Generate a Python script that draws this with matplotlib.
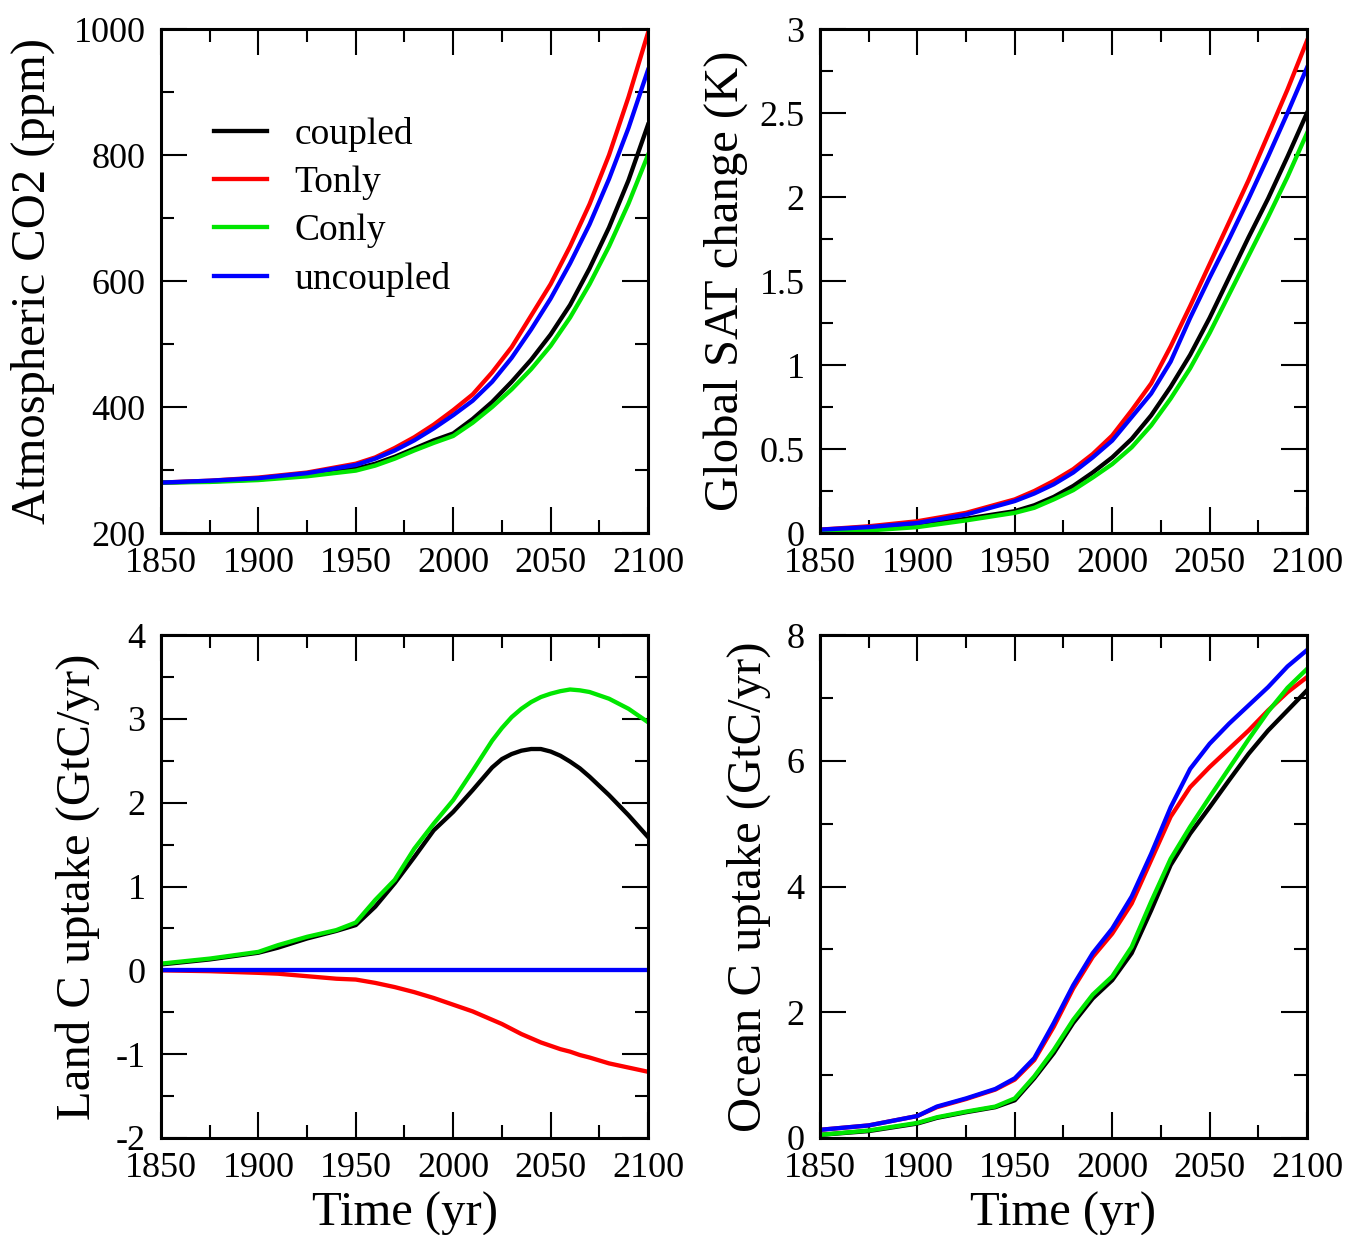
import matplotlib
matplotlib.use("Agg")
import matplotlib.pyplot as plt
from matplotlib.ticker import MultipleLocator

plt.rcParams['font.family'] = ['Liberation Serif', 'DejaVu Serif']
plt.rcParams['axes.unicode_minus'] = False

# --- data ---
run_names = ["coupled", "Tonly", "Conly", "uncoupled"]
run_colors = ["#000000", "#ff0000", "#00e600", "#0000ff"]

years = [1850, 1875, 1900, 1925, 1950, 1960, 1970, 1980, 1990, 2000,
         2010, 2020, 2030, 2040, 2050, 2060, 2070, 2080, 2090, 2100]

co2_coupled = [280, 282, 285, 292, 302, 310, 321, 334, 347, 358,
               381, 408, 440, 475, 515, 562, 620, 685, 760, 848]
co2_tonly = [280, 283, 288, 296, 310, 320, 335, 352, 372, 395,
             420, 455, 495, 545, 595, 655, 722, 800, 892, 994]
co2_conly = [280, 281, 284, 290, 299, 307, 318, 331, 343, 354,
             375, 400, 428, 460, 497, 542, 595, 655, 723, 800]
co2_uncoupled = [280, 283, 287, 295, 308, 318, 331, 347, 366, 387,
                 410, 440, 478, 523, 572, 628, 690, 762, 843, 935]

sat_coupled = [0.005, 0.02, 0.045, 0.085, 0.13, 0.165, 0.215, 0.28, 0.36, 0.45,
               0.56, 0.70, 0.87, 1.06, 1.28, 1.52, 1.76, 1.99, 2.24, 2.50]
sat_tonly = [0.02, 0.04, 0.07, 0.12, 0.20, 0.25, 0.31, 0.38, 0.47, 0.58,
             0.73, 0.89, 1.11, 1.35, 1.60, 1.85, 2.10, 2.37, 2.64, 2.93]
sat_conly = [0.005, 0.015, 0.035, 0.075, 0.12, 0.15, 0.20, 0.255, 0.33, 0.41,
             0.51, 0.64, 0.80, 0.98, 1.19, 1.42, 1.65, 1.88, 2.12, 2.38]
sat_uncoupled = [0.02, 0.035, 0.06, 0.11, 0.19, 0.235, 0.29, 0.36, 0.45, 0.55,
                 0.69, 0.83, 1.02, 1.28, 1.52, 1.75, 1.99, 2.24, 2.50, 2.77]

land_years = [1850, 1875, 1900, 1910, 1925, 1940, 1950, 1960, 1970, 1980, 1990,
              2000, 2010, 2020, 2025, 2030, 2035, 2040, 2045, 2050, 2055,
              2060, 2065, 2070, 2080, 2090, 2100]

land_coupled = [0.07, 0.13, 0.21, 0.27, 0.38, 0.47, 0.54, 0.76, 1.04, 1.35, 1.67,
                1.89, 2.15, 2.42, 2.52, 2.58, 2.62, 2.64, 2.64, 2.61, 2.56,
                2.49, 2.41, 2.31, 2.09, 1.85, 1.59]
land_tonly = [0.0, -0.01, -0.03, -0.04, -0.07, -0.10, -0.11, -0.15, -0.20, -0.26, -0.33,
              -0.41, -0.49, -0.59, -0.64, -0.70, -0.76, -0.81, -0.86, -0.90, -0.94,
              -0.97, -1.01, -1.04, -1.11, -1.16, -1.21]
land_conly = [0.08, 0.14, 0.22, 0.30, 0.40, 0.48, 0.57, 0.84, 1.08, 1.45, 1.75,
              2.03, 2.38, 2.74, 2.89, 3.02, 3.12, 3.20, 3.26, 3.30, 3.33,
              3.35, 3.34, 3.32, 3.24, 3.12, 2.96]
land_uncoupled = [0.0, 0.0, 0.0, 0.0, 0.0, 0.0, 0.0, 0.0, 0.0, 0.0, 0.0,
                  0.0, 0.0, 0.0, 0.0, 0.0, 0.0, 0.0, 0.0, 0.0, 0.0,
                  0.0, 0.0, 0.0, 0.0, 0.0, 0.0]

ocean_years = [1850, 1875, 1900, 1910, 1925, 1940, 1950, 1960, 1970, 1980, 1990,
               2000, 2010, 2020, 2030, 2040, 2050, 2060, 2070, 2080, 2090, 2100]

ocean_coupled = [0.05, 0.11, 0.23, 0.32, 0.41, 0.49, 0.60, 0.95, 1.35, 1.83, 2.22,
                 2.51, 2.94, 3.62, 4.34, 4.84, 5.26, 5.69, 6.11, 6.48, 6.80, 7.12]
ocean_tonly = [0.13, 0.20, 0.35, 0.49, 0.62, 0.77, 0.93, 1.24, 1.77, 2.38, 2.88,
               3.25, 3.73, 4.42, 5.11, 5.58, 5.90, 6.19, 6.48, 6.80, 7.09, 7.33]
ocean_conly = [0.05, 0.12, 0.24, 0.33, 0.42, 0.50, 0.63, 0.98, 1.40, 1.88, 2.28,
               2.57, 3.04, 3.76, 4.44, 4.95, 5.42, 5.88, 6.34, 6.78, 7.16, 7.46]
ocean_uncoupled = [0.13, 0.20, 0.35, 0.50, 0.63, 0.78, 0.95, 1.27, 1.83, 2.43, 2.94,
                   3.33, 3.84, 4.52, 5.26, 5.87, 6.27, 6.59, 6.88, 7.17, 7.50, 7.76]

# --- figure ---
fig = plt.figure(figsize=(13.48, 12.35), dpi=100)

W, H = 1348.0, 1235.0
ax_co2 = fig.add_axes([161 / W, 1 - 533 / H, 487 / W, 504 / H])
ax_sat = fig.add_axes([820 / W, 1 - 533 / H, 487 / W, 504 / H])
ax_land = fig.add_axes([161 / W, 1 - 1138 / H, 487 / W, 503 / H])
ax_ocean = fig.add_axes([820 / W, 1 - 1138 / H, 487 / W, 503 / H])

panels = [
    (ax_co2, years, [co2_coupled, co2_tonly, co2_conly, co2_uncoupled],
     (200, 1000), 200, 100, "Atmospheric CO2 (ppm)", -0.218),
    (ax_sat, years, [sat_coupled, sat_tonly, sat_conly, sat_uncoupled],
     (0, 3), 0.5, 0.25, "Global SAT change (K)", -0.148),
    (ax_land, land_years, [land_coupled, land_tonly, land_conly, land_uncoupled],
     (-2, 4), 1, 0.5, "Land C uptake (GtC/yr)", -0.126),
    (ax_ocean, ocean_years, [ocean_coupled, ocean_tonly, ocean_conly, ocean_uncoupled],
     (0, 8), 2, 1, "Ocean C uptake (GtC/yr)", -0.10),
]

for ax, xs, series, ylim, ymaj, ymin, ylabel, labx in panels:
    for vals, name, col in zip(series, run_names, run_colors):
        ax.plot(xs, vals, color=col, lw=3.1, label=name)
    ax.set_xlim(1850, 2100)
    ax.set_ylim(*ylim)
    ax.xaxis.set_major_locator(MultipleLocator(50))
    ax.xaxis.set_minor_locator(MultipleLocator(25))
    ax.yaxis.set_major_locator(MultipleLocator(ymaj))
    ax.yaxis.set_minor_locator(MultipleLocator(ymin))
    ax.tick_params(which='both', direction='in', top=True, right=True,
                   labelsize=26, width=1.5)
    ax.tick_params(which='major', length=19)
    ax.tick_params(which='minor', length=9.5)
    ax.tick_params(axis='x', pad=10)
    ax.tick_params(axis='y', pad=11)
    for sp in ax.spines.values():
        sp.set_linewidth(2.2)
    ax.set_ylabel(ylabel, fontsize=35)
    ax.yaxis.set_label_coords(labx, 0.5)

ax_sat.yaxis.set_major_formatter(plt.FuncFormatter(lambda v, p: f"{v:g}"))

for ax in (ax_land, ax_ocean):
    ax.set_xlabel("Time (yr)", fontsize=35, labelpad=5)

ax_co2.legend(loc='upper left', bbox_to_anchor=(0.109, 0.826), frameon=False,
              fontsize=27, handlelength=1.4, handletextpad=0.75,
              labelspacing=0.37, borderpad=0, borderaxespad=0)

fig.savefig("out.png", dpi=100)
